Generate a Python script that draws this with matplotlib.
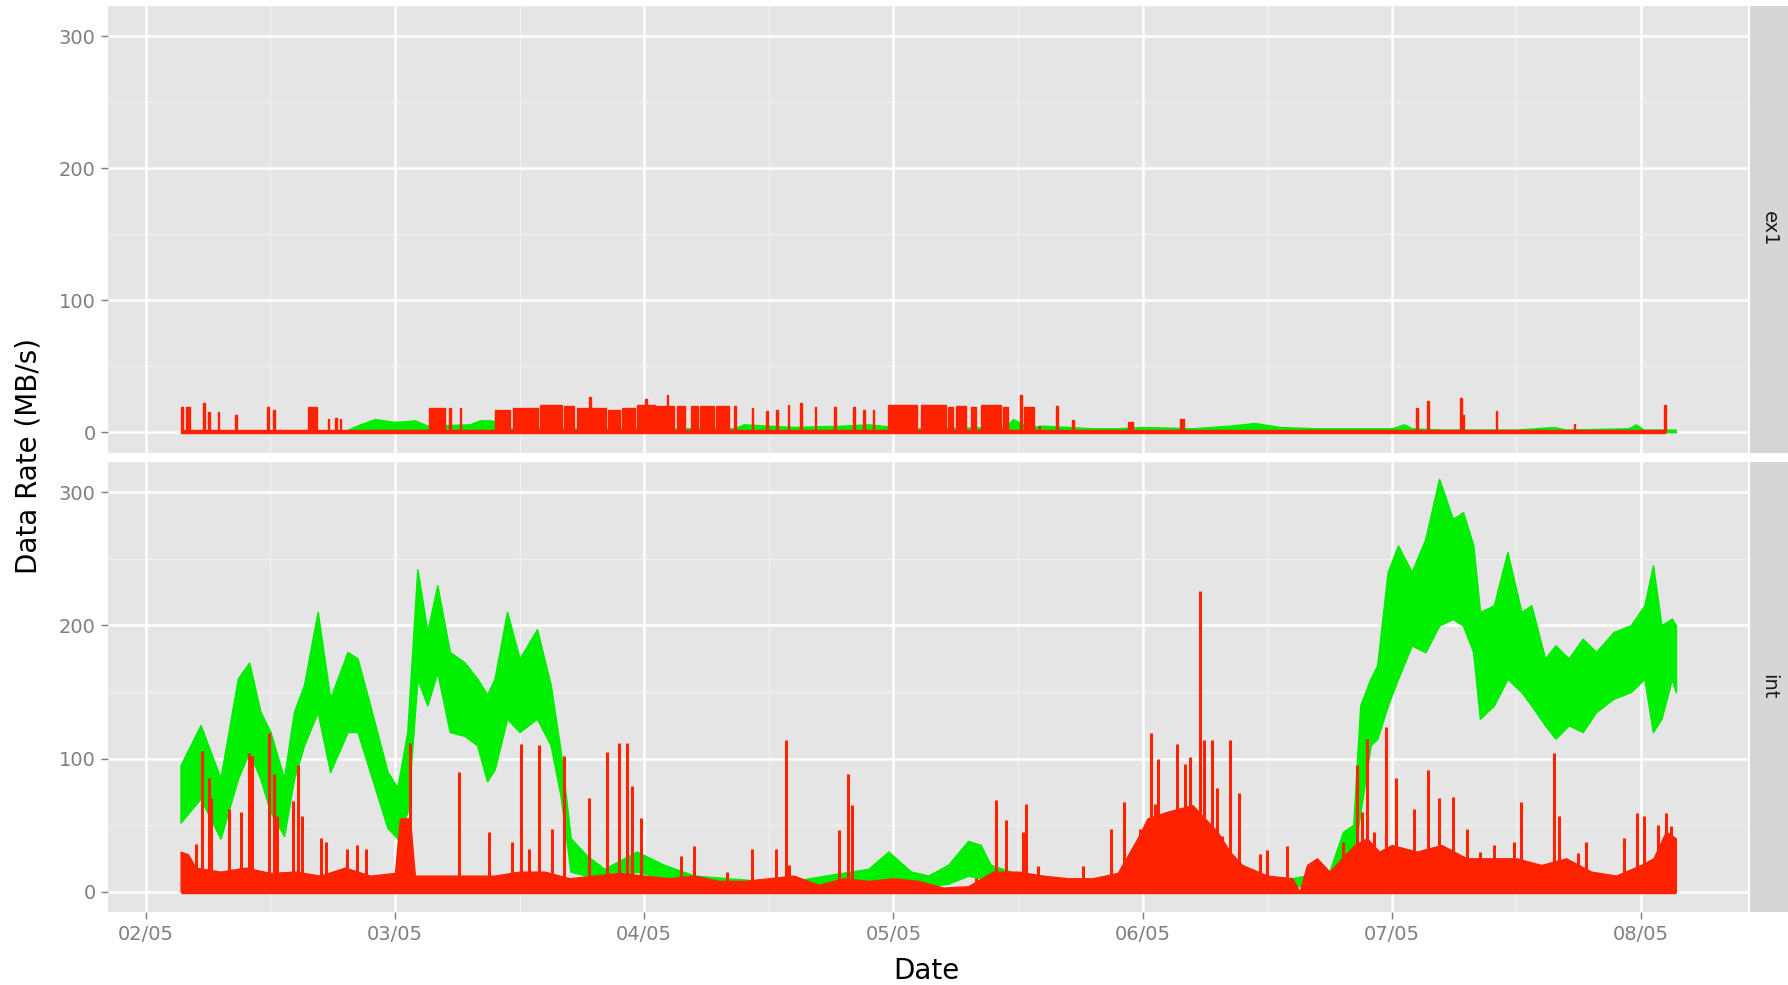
import numpy as np
import matplotlib.pyplot as plt
from matplotlib.ticker import MultipleLocator

# time axis in days after 02/05 00:00
tick_days = [0, 1, 2, 3, 4, 5, 6]
tick_labels = ["02/05", "03/05", "04/05", "05/05", "06/05", "07/05", "08/05"]
facets = ["ex1", "int"]

# --- int panel, green series: envelope of the noisy band (MB/s)
green_int_t = [0.14, 0.22, 0.30, 0.37, 0.415, 0.46, 0.50, 0.555, 0.595, 0.635,
               0.69, 0.74, 0.81, 0.85, 0.90, 0.97, 1.01, 1.05, 1.09, 1.13,
               1.17, 1.22, 1.28, 1.33, 1.37, 1.40, 1.45, 1.50, 1.57, 1.625,
               1.665, 1.705, 1.77, 1.84, 1.97, 2.08, 2.20, 2.33, 2.47, 2.60,
               2.73, 2.90, 2.98, 3.07, 3.14, 3.22, 3.30, 3.35, 3.39, 3.47,
               3.54, 3.67, 3.80, 3.89, 3.96, 4.05, 4.20, 4.40, 4.60, 4.75,
               4.805, 4.846, 4.874, 4.915, 4.942, 4.984, 5.025, 5.08, 5.135, 5.19,
               5.245, 5.286, 5.327, 5.354, 5.41, 5.464, 5.52, 5.56, 5.615, 5.657,
               5.71, 5.766, 5.82, 5.89, 5.959, 6.014, 6.048, 6.082, 6.124, 6.14]
green_int_hi = [95, 125, 85, 160, 172, 135, 120, 85, 135, 155,
                210, 145, 180, 175, 140, 90, 78, 120, 242, 195,
                230, 180, 172, 160, 148, 160, 210, 175, 197, 155,
                105, 40, 27, 17, 30, 20, 12, 10, 8, 8,
                12, 17, 30, 15, 12, 20, 38, 35, 20, 15,
                10, 8, 6, 8, 25, 30, 20, 12, 10, 15,
                45, 50, 140, 160, 170, 240, 260, 240, 265, 310,
                280, 285, 260, 210, 215, 255, 210, 215, 175, 185,
                175, 190, 180, 195, 200, 215, 245, 200, 205, 200]
green_int_lo = [52, 70, 40, 85, 105, 85, 60, 42, 85, 110,
                135, 90, 120, 120, 90, 48, 40, 60, 160, 140,
                165, 120, 117, 110, 83, 92, 130, 120, 130, 110,
                72, 15, 12, 10, 15, 10, 5, 4, 3, 3,
                5, 8, 10, 8, 4, 6, 12, 10, 5, 5,
                4, 3, 2, 2, 8, 10, 8, 5, 4, 5,
                12, 25, 60, 110, 115, 140, 160, 185, 180, 200,
                205, 200, 180, 130, 140, 160, 150, 140, 125, 115,
                125, 120, 135, 145, 150, 160, 120, 130, 160, 150]

# --- int panel, red series: dense lower part + individual spikes
red_int_t = [0.14, 0.17, 0.20, 0.30, 0.40, 0.50, 0.60, 0.70, 0.80, 0.90,
             1.00, 1.02, 1.06, 1.08, 1.20, 1.30, 1.40, 1.50, 1.60, 1.70,
             1.80, 1.90, 2.00, 2.10, 2.20, 2.30, 2.40, 2.50, 2.60, 2.70,
             2.80, 2.90, 3.00, 3.10, 3.20, 3.30, 3.40, 3.50, 3.60, 3.70,
             3.80, 3.90, 3.98, 4.02, 4.10, 4.20, 4.30, 4.35, 4.40, 4.50,
             4.60, 4.63, 4.66, 4.70, 4.75, 4.80, 4.85, 4.90, 4.95, 5.00,
             5.10, 5.20, 5.30, 5.40, 5.50, 5.60, 5.70, 5.80, 5.90, 6.00,
             6.05, 6.10, 6.14]
red_int_base = [30, 28, 18, 15, 18, 14, 15, 12, 18, 12,
                14, 55, 55, 12, 12, 12, 12, 15, 15, 10,
                12, 14, 12, 10, 12, 8, 8, 10, 12, 5,
                10, 8, 10, 8, 3, 4, 15, 15, 12, 10,
                10, 14, 40, 55, 60, 65, 45, 30, 20, 12,
                10, 0, 20, 25, 15, 25, 35, 40, 30, 35,
                30, 35, 25, 25, 25, 20, 25, 15, 12, 20,
                25, 45, 40]
spike_t = [0.200, 0.227, 0.254, 0.261, 0.334, 0.381, 0.415, 0.428, 0.495, 0.515,
           0.528, 0.589, 0.609, 0.629, 0.702, 0.722, 0.809, 0.849, 0.883, 1.061,
           1.257, 1.378, 1.471, 1.505, 1.538, 1.578, 1.632, 1.679, 1.779, 1.852,
           1.899, 1.933, 1.953, 1.986,
           2.147, 2.200, 2.334, 2.432, 2.528, 2.569, 2.580, 2.783, 2.819, 2.834,
           3.330, 3.412, 3.452, 3.520, 3.533, 3.580, 3.760, 3.874, 3.927, 3.988,
           4.035, 4.050,
           4.06, 4.14, 4.17, 4.19, 4.23, 4.245, 4.28, 4.30, 4.32, 4.35,
           4.386, 4.47, 4.50, 4.58, 4.805, 4.86, 4.88, 4.90, 4.93, 4.977,
           5.018, 5.09, 5.146, 5.19, 5.247, 5.30, 5.354, 5.41, 5.49, 5.52,
           5.65, 5.67, 5.746, 5.78, 5.93, 5.986, 6.014, 6.07, 6.10, 6.12]
spike_v = [36, 106, 85, 70, 62, 60, 104, 102, 119, 88,
           57, 68, 95, 57, 40, 37, 32, 35, 32, 112,
           90, 45, 37, 111, 32, 110, 47, 102, 70, 105,
           112, 112, 79, 55,
           27, 34, 15, 32, 32, 114, 20, 46, 88, 65,
           10, 69, 54, 45, 66, 19, 19, 47, 67, 47,
           119, 66,
           100, 111, 96, 101, 226, 114, 114, 78, 42, 114,
           74, 28, 31, 34, 37, 95, 60, 115, 45, 124,
           85, 62, 91, 70, 71, 47, 30, 35, 37, 67,
           104, 57, 29, 37, 40, 59, 57, 50, 59, 49]

# --- ex1 panel, red series: bursts (start day, end day, peak MB/s)
ex1_red_start = [0.140, 0.160, 0.228, 0.250, 0.288, 0.360, 0.486, 0.512, 0.652, 0.730,
                 0.760, 0.780, 1.135, 1.216, 1.260, 1.403, 1.472, 1.582, 1.678, 1.730,
                 1.780, 1.853, 1.912, 1.970, 2.004, 2.048, 2.091, 2.130, 2.190, 2.225,
                 2.290, 2.360, 2.432, 2.490, 2.530, 2.576, 2.626, 2.684, 2.762, 2.840,
                 2.880, 2.918, 2.980, 3.110, 3.220, 3.250, 3.310, 3.350, 3.440, 3.510,
                 3.524, 3.585, 3.652, 3.718, 3.940, 4.150, 5.098, 5.143, 5.275, 5.282,
                 5.418, 5.730, 6.093]
ex1_red_end = [0.150, 0.178, 0.238, 0.258, 0.296, 0.368, 0.494, 0.520, 0.686, 0.737,
               0.766, 0.785, 1.200, 1.223, 1.267, 1.462, 1.575, 1.672, 1.720, 1.848,
               1.787, 1.905, 1.965, 2.042, 2.010, 2.120, 2.097, 2.165, 2.215, 2.280,
               2.340, 2.370, 2.438, 2.496, 2.536, 2.582, 2.632, 2.690, 2.768, 2.846,
               2.886, 2.924, 3.096, 3.210, 3.240, 3.290, 3.330, 3.430, 3.460, 3.518,
               3.563, 3.590, 3.662, 3.724, 3.960, 4.165, 5.104, 5.150, 5.282, 5.290,
               5.424, 5.736, 6.100]
ex1_red_top = [19, 19, 22, 15, 15, 13, 19, 17, 19, 10,
               11, 10, 18, 18, 18, 17, 18, 21, 20, 18,
               27, 17, 18, 21, 25, 20, 28, 20, 20, 20,
               20, 20, 18, 16, 17, 21, 22, 19, 19, 19,
               17, 17, 21, 21, 19, 20, 19, 21, 19, 28,
               19, 5, 20, 9, 8, 10, 18, 24, 26, 13,
               16, 6, 21]

# --- ex1 panel, green series
ex1_green_t = [0.14, 0.80, 0.86, 0.92, 0.99, 1.02, 1.08, 1.13, 1.30, 1.34,
               1.38, 1.42, 1.46, 2.36, 2.40, 2.50, 2.60, 2.80, 2.90, 3.00,
               3.10, 3.45, 3.48, 3.50, 3.55, 3.60, 3.70, 3.80, 3.90, 4.00,
               4.20, 4.35, 4.45, 4.55, 4.70, 4.90, 5.00, 5.05, 5.08, 5.20,
               5.50, 5.65, 5.70, 5.95, 5.98, 6.01, 6.14]
ex1_green_v = [0, 1, 6, 10, 8, 8, 9, 5, 6, 9,
               9, 8, 3, 3, 6, 5, 4, 5, 6, 4,
               3, 4, 10, 8, 4, 5, 4, 3, 3, 4,
               3, 5, 7, 4, 3, 3, 3, 6, 3, 2,
               2, 4, 2, 3, 6, 2, 2]

GREEN = '#00ee00'
RED = '#ff2200'
PANEL = '#e5e5e5'
STRIP = '#d6d6d6'
GREY = '#7f7f7f'

fig = plt.figure(figsize=(17.88, 9.85), dpi=100)
ax_top = fig.add_axes([0.0606, 0.5404, 0.9171, 0.4538])
ax_bot = fig.add_axes([0.0606, 0.0739, 0.9171, 0.4573])


def style(ax, show_x):
    ax.set_facecolor(PANEL)
    for s in ax.spines.values():
        s.set_visible(False)
    ax.set_xlim(-0.15, 6.43)
    ax.set_ylim(-15.5, 323)
    ax.xaxis.set_major_locator(MultipleLocator(1))
    ax.xaxis.set_minor_locator(MultipleLocator(0.5))
    ax.yaxis.set_major_locator(MultipleLocator(100))
    ax.yaxis.set_minor_locator(MultipleLocator(50))
    ax.grid(which='major', color='white', linewidth=1.8, zorder=0)
    ax.grid(which='minor', color='#f2f2f2', linewidth=0.9, zorder=0)
    ax.set_axisbelow(True)
    ax.tick_params(axis='y', which='major', length=5, width=1, color=GREY,
                   labelcolor=GREY, labelsize=14, pad=4)
    ax.tick_params(which='minor', length=0)
    ax.set_yticks([0, 100, 200, 300])
    ax.set_yticklabels(["0", "100", "200", "300"])
    if show_x:
        ax.set_xticks(tick_days)
        ax.set_xticklabels(tick_labels)
        ax.tick_params(axis='x', which='major', length=5, width=1, color=GREY,
                       labelcolor=GREY, labelsize=14, pad=4)
    else:
        ax.tick_params(axis='x', which='both', length=0, labelbottom=False)


style(ax_top, False)
style(ax_bot, True)

# ex1 panel
ax_top.fill_between(ex1_green_t, 0, ex1_green_v, color=GREEN, linewidth=1, zorder=2)
ax_top.bar(ex1_red_start, ex1_red_top,
           width=np.array(ex1_red_end) - np.array(ex1_red_start),
           align='edge', color=RED, edgecolor=RED, linewidth=1, zorder=3)
ax_top.hlines(0, min(ex1_red_start), max(ex1_red_end), color=RED, linewidth=3.2, zorder=3)

# int panel
ax_bot.fill_between(green_int_t, green_int_lo, green_int_hi, color=GREEN,
                    edgecolor=GREEN, linewidth=1.2, zorder=2)
ax_bot.fill_between(red_int_t, 0, red_int_base, color=RED, edgecolor=RED,
                    linewidth=1, zorder=3)
ax_bot.vlines(spike_t, 0, spike_v, color=RED, linewidth=2.2, zorder=3)
ax_bot.hlines(0, min(red_int_t), max(red_int_t), color=RED, linewidth=2.5, zorder=3)

# facet strips
for ax, name in zip([ax_top, ax_bot], facets):
    pos = ax.get_position()
    sax = fig.add_axes([0.9787, pos.y0, 0.0213, pos.height])
    sax.set_facecolor(STRIP)
    sax.set_xticks([])
    sax.set_yticks([])
    for s in sax.spines.values():
        s.set_visible(False)
    sax.text(0.5, 0.5, name, rotation=270, ha='center', va='center',
             fontsize=14, color='#1a1a1a', transform=sax.transAxes)

fig.text(0.0157, 0.537, "Data Rate (MB/s)", rotation=90, ha='center', va='center',
         fontsize=20)
fig.text(0.518, 0.0142, "Date", ha='center', va='center', fontsize=20)

fig.savefig("out.png", dpi=100, facecolor='white')
